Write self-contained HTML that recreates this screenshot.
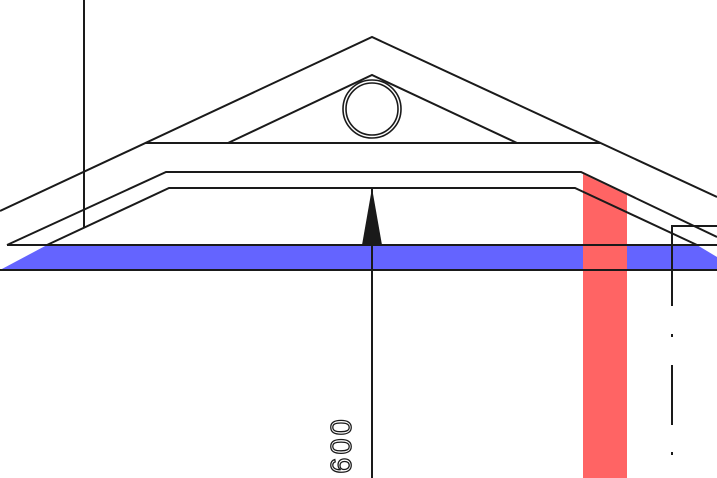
<!DOCTYPE html>
<html><head><meta charset="utf-8"><style>html,body{margin:0;padding:0;background:#fff}svg{display:block}</style></head>
<body>
<svg width="717" height="478" viewBox="0 0 717 478" xmlns="http://www.w3.org/2000/svg">
<polygon points="0,270 47,245 697,245 717,257 717,270" fill="#6464ff"/>
<polygon points="583,174 627,195 627,478 583,478" fill="#ff6464"/>
<g stroke="#1a1a1a" stroke-width="2" fill="none">
<line x1="84" y1="0" x2="84" y2="228"/>
<polyline points="0,211 372,37 717,197"/>
<line x1="145" y1="143" x2="600" y2="143"/>
<polyline points="228,143 372,75 517,143"/>
<circle cx="372" cy="109" r="29" stroke-width="1.6"/>
<circle cx="372" cy="109" r="26" stroke-width="1.6"/>
<polyline points="7,245 166,172 581,172 717,237"/>
<polyline points="47,245 169,188 575,188 697,245"/>
<line x1="7" y1="245" x2="717" y2="245"/>
<line x1="0" y1="270" x2="717" y2="270"/>
<polyline points="717,226 672,226 672,306"/>
<line x1="672" y1="334" x2="672" y2="337"/>
<line x1="672" y1="365" x2="672" y2="425"/>
<line x1="672" y1="452" x2="672" y2="455"/>
<line x1="372" y1="188" x2="372" y2="478"/>
</g>
<polygon points="372,188 362,245 382,245" fill="#1a1a1a"/>
<text x="0" y="0" transform="translate(351,445) rotate(-90)" text-anchor="middle" font-family="Liberation Sans, sans-serif" font-size="29" fill="none" stroke="#1a1a1a" stroke-width="1.3" letter-spacing="3">600</text>
</svg>
</body></html>
